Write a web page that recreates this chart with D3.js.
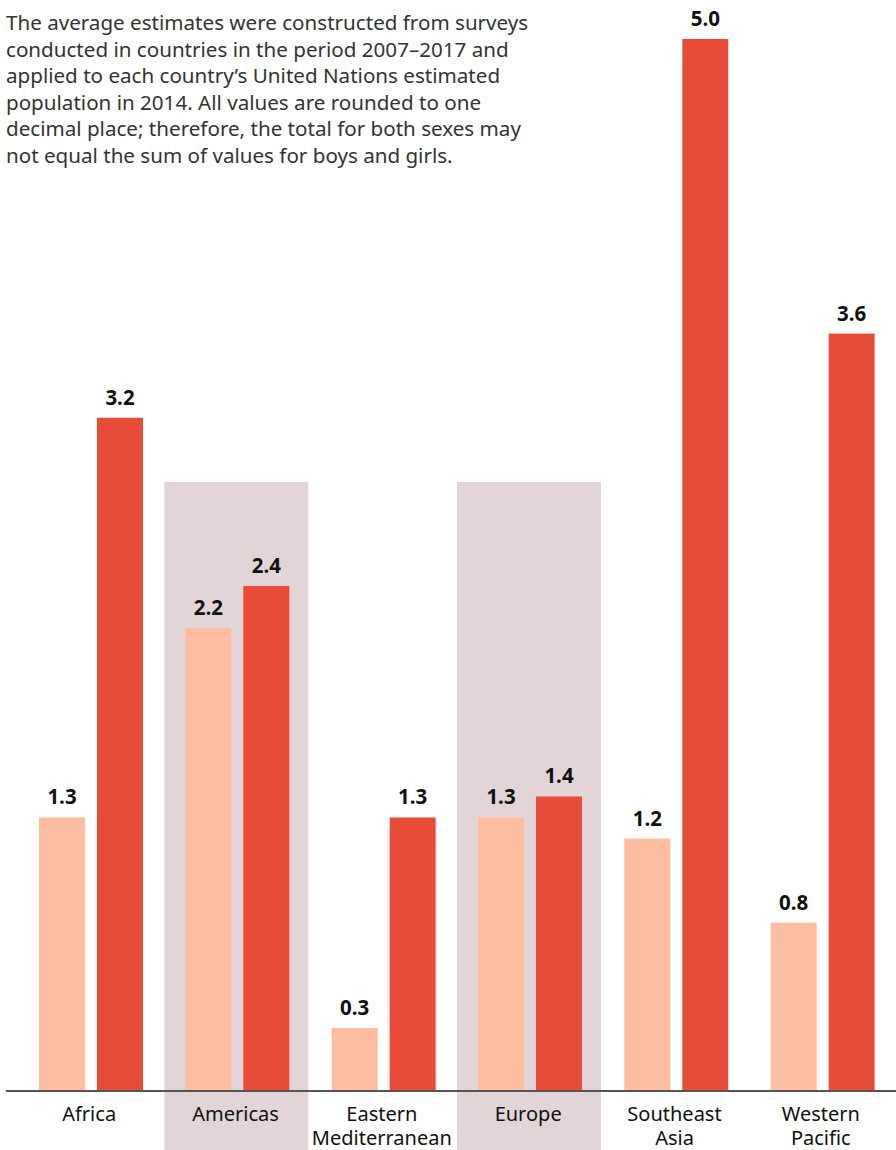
<!DOCTYPE html>
<html><head><meta charset="utf-8">
<script src="https://cdn.jsdelivr.net/npm/d3@7"></script>
<style>
html,body{margin:0;padding:0;background:#fff;}
svg{display:block;}
</style></head>
<body>
<script>
const categories = ["Africa","Americas","Eastern Mediterranean","Europe","Southeast Asia","Western Pacific"];
const categoryLines = [["Africa"],["Americas"],["Eastern","Mediterranean"],["Europe"],["Southeast","Asia"],["Western","Pacific"]];
const girls = [1.3, 2.2, 0.3, 1.3, 1.2, 0.8];
const boys  = [3.2, 2.4, 1.3, 1.4, 5.0, 3.6];
const highlighted = ["Americas","Europe"];
const note = [
 "The average estimates were constructed from surveys",
 "conducted in countries in the period 2007–2017 and",
 "applied to each country’s United Nations estimated",
 "population in 2014. All values are rounded to one",
 "decimal place; therefore, the total for both sexes may",
 "not equal the sum of values for boys and girls."
];

const W = 896, H = 1150;
const base = 1091;
const font = "'Noto Sans', sans-serif";
const svg = d3.select("body").append("svg").attr("width", W).attr("height", H);

const x = d3.scaleBand().domain(categories).range([17, 895]);
const y = d3.scaleLinear().domain([0, 5]).range([base, 39]);
const barW = 46, gOff = 22, bOff = 80;

// highlight bands
svg.selectAll("rect.hl").data(highlighted).join("rect")
  .attr("x", d => x(d) + 1).attr("y", 482)
  .attr("width", 144).attr("height", H - 482)
  .attr("fill", "#e3d5d7");

const data = categories.map((c,i) => ({c, g: girls[i], b: boys[i]}));

svg.selectAll("rect.g").data(data).join("rect")
  .attr("x", d => x(d.c) + gOff).attr("y", d => y(d.g))
  .attr("width", barW).attr("height", d => base - y(d.g))
  .attr("fill", "#fdbda0");
svg.selectAll("rect.b").data(data).join("rect")
  .attr("x", d => x(d.c) + bOff).attr("y", d => y(d.b))
  .attr("width", barW).attr("height", d => base - y(d.b))
  .attr("fill", "#e64c37");

const fmt = d3.format(".1f");
svg.selectAll("text.gv").data(data).join("text")
  .attr("x", d => x(d.c) + gOff + barW/2).attr("y", d => y(d.g) - 13)
  .attr("text-anchor", "middle").attr("font-family", font).attr("font-weight", 700)
  .attr("font-size", 20.5).attr("fill", "#111").text(d => fmt(d.g));
svg.selectAll("text.bv").data(data).join("text")
  .attr("x", d => x(d.c) + bOff + barW/2).attr("y", d => y(d.b) - 13)
  .attr("text-anchor", "middle").attr("font-family", font).attr("font-weight", 700)
  .attr("font-size", 20.5).attr("fill", "#111").text(d => fmt(d.b));

// axis line
svg.append("line").attr("x1", 6).attr("x2", W).attr("y1", base).attr("y2", base)
  .attr("stroke", "#555").attr("stroke-width", 2);

// category labels (one text per line)
const catLines = [];
categories.forEach((c, i) => categoryLines[i].forEach((ln, j) => catLines.push({c, ln, j})));
svg.selectAll("text.cat").data(catLines).join("text")
  .attr("class", "cat")
  .attr("x", d => x(d.c) + x.bandwidth()/2 - 1).attr("y", d => 1121 + d.j*23.5)
  .attr("text-anchor", "middle").attr("font-family", font).attr("font-size", 20)
  .attr("fill", "#111").text(d => d.ln);

// note
svg.append("text").attr("font-family", font).attr("font-size", 20.6).attr("fill", "#333")
  .selectAll("tspan").data(note).join("tspan")
  .attr("x", 6).attr("y", (d,i) => 30 + i*26.6).text(d => d);
</script>
</body></html>
